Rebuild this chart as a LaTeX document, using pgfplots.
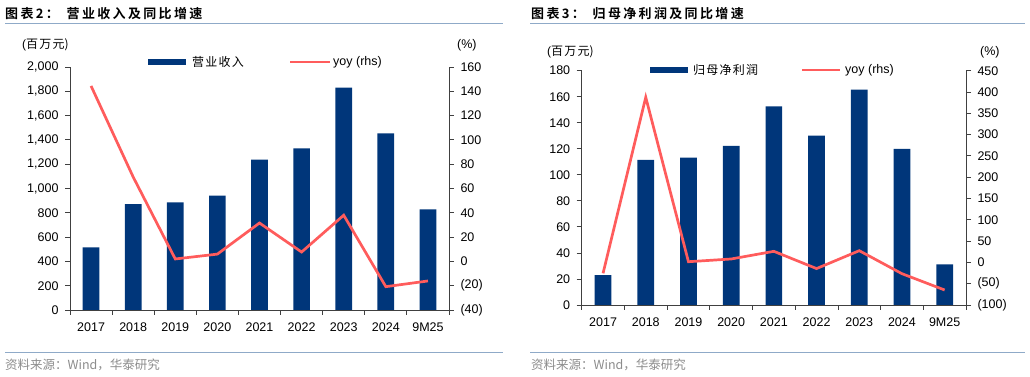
\documentclass[border=0pt]{standalone}
\usepackage{pgfplots}
\pgfplotsset{compat=1.18}
\usepackage{fontspec}
\setmainfont{Liberation Sans}
\newfontfamily\cjk{Noto Sans CJK SC}
\newfontfamily\cjkt[LetterSpace=18]{Noto Sans CJK SC Bold}
\newfontfamily\cjkl[LetterSpace=10]{Noto Sans CJK SC}
\definecolor{navy}{RGB}{0,54,122}
\definecolor{salmon}{RGB}{255,92,92}
\definecolor{axgray}{RGB}{64,64,64}
\definecolor{tline}{RGB}{143,170,200}
\definecolor{srcgray}{RGB}{140,140,140}
\newcommand{\tk}{\fontsize{12.5}{14}\selectfont}

\pgfplotsset{
  base/.style={
    scale only axis,
    xmin=-0.5, xmax=8.5,
    axis line style={axgray, line width=0.8pt},
    tick style={axgray, line width=0.8pt},
    tick align=outside,
    major tick length=5pt,
    minor tick length=5pt,
    ticklabel style={font=\tk, text=black},
    /pgf/number format/assume math mode=true,
    clip=false,
  },
  barax/.style={
    base,
    axis x line*=bottom,
    axis y line*=left,
    xtick={0,...,8},
    xticklabels={2017,2018,2019,2020,2021,2022,2023,2024,9M25},
    major x tick style={draw=none},
    minor xtick={-0.5,0.5,...,8.5},
    xticklabel style={yshift=-4pt},
    yticklabel style={xshift=-3pt},
  },
  lineax/.style={
    base,
    axis x line=none,
    axis y line*=right,
    yticklabel style={xshift=3pt},
  },
}

\begin{document}
\begin{tikzpicture}
\path[use as bounding box] (0pt,0pt) rectangle (1030pt,377pt);

% ---------- titles and frames ----------
\node[anchor=west, inner sep=0pt, font=\fontsize{13}{15}\selectfont] at (5pt,363pt) {\cjkt 图表2：\hspace{0.6em}营业收入及同比增速};
\draw[tline, line width=1pt] (5pt,353.5pt) -- (503pt,353.5pt);
\node[anchor=west, inner sep=0pt, font=\fontsize{13}{15}\selectfont] at (531pt,363pt) {\cjkt 图表3：\hspace{0.6em}归母净利润及同比增速};
\draw[tline, line width=1pt] (530pt,353.5pt) -- (1025pt,353.5pt);

\draw[tline, line width=1pt] (5pt,24pt) -- (503pt,24pt);
\draw[tline, line width=1pt] (530pt,24pt) -- (1025pt,24pt);
\node[anchor=west, inner sep=0pt, text=srcgray, font=\fontsize{12.5}{14}\selectfont] at (5pt,12pt) {\cjk 资料来源：Wind，华泰研究};
\node[anchor=west, inner sep=0pt, text=srcgray, font=\fontsize{12.5}{14}\selectfont] at (531pt,12pt) {\cjk 资料来源：Wind，华泰研究};

% ---------- left panel ----------
\node[anchor=west, inner sep=0pt, font=\fontsize{12}{14}\selectfont] at (22pt,332pt) {(\cjkl 百万元\cjk)};
\node[anchor=west, inner sep=0pt, font=\tk] at (457pt,332pt) {(\%)};
\fill[navy] (148pt,312pt) rectangle (186pt,318pt);
\node[anchor=west, inner sep=0pt, font=\fontsize{12}{14}\selectfont] at (192pt,315pt) {\cjkl 营业收入};
\draw[salmon, line width=2.7pt] (290pt,315pt) -- (330pt,315pt);
\node[anchor=west, inner sep=0pt, font=\tk] at (333pt,315pt) {yoy (rhs)};

\begin{axis}[barax, at={(70pt,67pt)}, anchor=south west, width=379pt, height=243pt,
  ymin=0, ymax=2000, ytick={0,200,...,2000},
  yticklabels={0,200,400,600,800,{1,000},{1,200},{1,400},{1,600},{1,800},{2,000}}]
\addplot[ybar, bar width=16.7pt, fill=navy, draw=none] coordinates {
(0,515) (1,872) (2,886) (3,941) (4,1237) (5,1331) (6,1830) (7,1454) (8,829)};
\end{axis}
\begin{axis}[lineax, at={(70pt,67pt)}, anchor=south west, width=379pt, height=243pt,
  ymin=-40, ymax=160, ytick={-40,-20,...,160},
  yticklabels={(40),(20),0,20,40,60,80,100,120,140,160}]
\addplot[salmon, line width=2.7pt, sharp plot] coordinates {
(0,144.4) (1,69.5) (2,2) (3,6) (4,31.6) (5,7.7) (6,38) (7,-20.8) (8,-16.1)};
\end{axis}

% ---------- right panel ----------
\node[anchor=west, inner sep=0pt, font=\fontsize{12}{14}\selectfont] at (547pt,325pt) {(\cjkl 百万元\cjk)};
\node[anchor=west, inner sep=0pt, font=\tk] at (980pt,325pt) {(\%)};
\fill[navy] (650pt,304pt) rectangle (688pt,310pt);
\node[anchor=west, inner sep=0pt, font=\fontsize{12}{14}\selectfont] at (693pt,307pt) {\cjkl 归母净利润};
\draw[salmon, line width=2.7pt] (802pt,307pt) -- (840pt,307pt);
\node[anchor=west, inner sep=0pt, font=\tk] at (845pt,307pt) {yoy (rhs)};

\begin{axis}[barax, at={(581.7pt,72pt)}, anchor=south west, width=384.3pt, height=234.3pt,
  ymin=0, ymax=180, ytick={0,20,...,180}]
\addplot[ybar, bar width=16.7pt, fill=navy, draw=none] coordinates {
(0,23) (1,111.5) (2,113.3) (3,122.3) (4,152.6) (5,130.2) (6,165.4) (7,120) (8,31.3)};
\end{axis}
\begin{axis}[lineax, at={(581.7pt,72pt)}, anchor=south west, width=384.3pt, height=234.3pt,
  ymin=-100, ymax=450, ytick={-100,-50,...,450},
  yticklabels={(100),(50),0,50,100,150,200,250,300,350,400,450}]
\addplot[salmon, line width=2.7pt, sharp plot] coordinates {
(0,-25.6) (1,387.6) (2,1.6) (3,8) (4,26) (5,-14.5) (6,27.5) (7,-26.5) (8,-64.8)};
\end{axis}
\end{tikzpicture}
\end{document}
